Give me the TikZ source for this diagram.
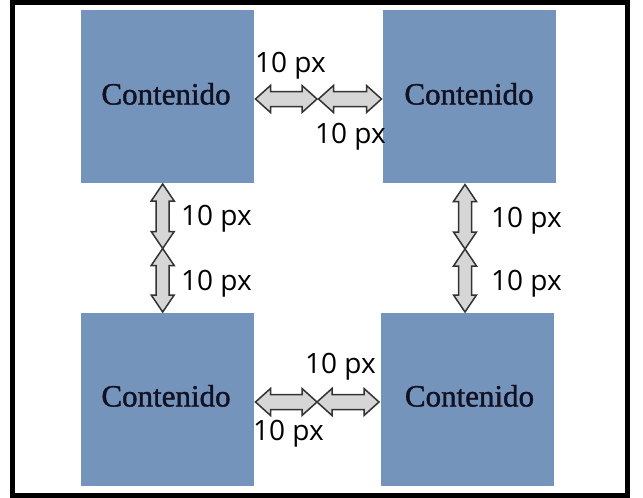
\documentclass[tikz,border=0pt]{standalone}
\usepackage{fontspec}
\setmainfont{Liberation Serif}[FakeBold=1.3]
\newfontfamily\labelfont{Open Sans}
\definecolor{boxblue}{HTML}{7594BB}
\definecolor{arrowgray}{HTML}{D6D6D6}
\definecolor{arrowline}{HTML}{333333}
\definecolor{textdark}{HTML}{111122}
\newcommand\harrowshape[3]{% x1, x2, y
  (#1,#3) -- ({#1+15},{#3-13.5}) -- ({#1+15},{#3-7.5}) -- ({#2-15},{#3-7.5}) -- ({#2-15},{#3-13.5}) -- (#2,#3) -- ({#2-15},{#3+13.5}) -- ({#2-15},{#3+7.5}) -- ({#1+15},{#3+7.5}) -- ({#1+15},{#3+13.5}) -- cycle}
\newcommand\varrowshape[3]{% y1, y2, x
  (#3,#1) -- ({#3-11.5},{#1+17}) -- ({#3-6.5},{#1+17}) -- ({#3-6.5},{#2-17}) -- ({#3-11.5},{#2-17}) -- (#3,#2) -- ({#3+11.5},{#2-17}) -- ({#3+6.5},{#2-17}) -- ({#3+6.5},{#1+17}) -- ({#3+11.5},{#1+17}) -- cycle}
\tikzset{
  contentbox/.style={fill=boxblue, draw=none, minimum width=173pt, minimum height=173pt, inner sep=0pt, outer sep=0pt},
  contenttext/.style={text=textdark, font=\fontsize{31}{36}\selectfont, inner sep=0pt, anchor=base},
  gaplabel/.style={font=\labelfont\fontsize{28}{32}\selectfont, text=black, inner sep=0pt, anchor=base west},
  blockarrow/.style={fill=arrowgray, draw=arrowline, line width=1.5pt, line join=miter}
}
\begin{document}
\begin{tikzpicture}[x=1pt, y=-1pt]
\useasboundingbox (0,0) rectangle (643,498);
\fill[white] (0,0) rectangle (643,498);
\draw[line width=5pt] (12.5,2) rectangle (627.5,495.5);
% boxes
\node[contentbox] (tl) at (167.5,96.5) {};
\node[contentbox] (tr) at (469.5,96.5) {};
\node[contentbox] (bl) at (167.5,399.5) {};
\node[contentbox] (br) at (467,399.5) {};
\node[contenttext] (tlt) at (166,104.5) {Contenido};
\node[contenttext] (trt) at (469,104.5) {Contenido};
\node[contenttext] (blt) at (166,406.5) {Contenido};
\node[contenttext] (brt) at (469.5,406.5) {Contenido};
% arrows
\draw[blockarrow] \harrowshape{255.5}{317}{99};
\draw[blockarrow] \harrowshape{318.5}{381.5}{99};
\draw[blockarrow] \harrowshape{255.5}{317}{402};
\draw[blockarrow] \harrowshape{317}{379}{402};
\draw[blockarrow] \varrowshape{184}{248.5}{162.7};
\draw[blockarrow] \varrowshape{248.5}{312}{162.7};
\draw[blockarrow] \varrowshape{184.5}{249}{465};
\draw[blockarrow] \varrowshape{249}{312}{465};
% labels
\node[gaplabel] (l1) at (255,72) {10 px};
\node[gaplabel] (l2) at (315,143) {10 px};
\node[gaplabel] (l3) at (181,225) {10 px};
\node[gaplabel] (l4) at (181,290) {10 px};
\node[gaplabel] (l5) at (491,227) {10 px};
\node[gaplabel] (l6) at (491,290) {10 px};
\node[gaplabel] (l7) at (305,373) {10 px};
\node[gaplabel] (l8) at (253,440) {10 px};
\end{tikzpicture}
\end{document}
